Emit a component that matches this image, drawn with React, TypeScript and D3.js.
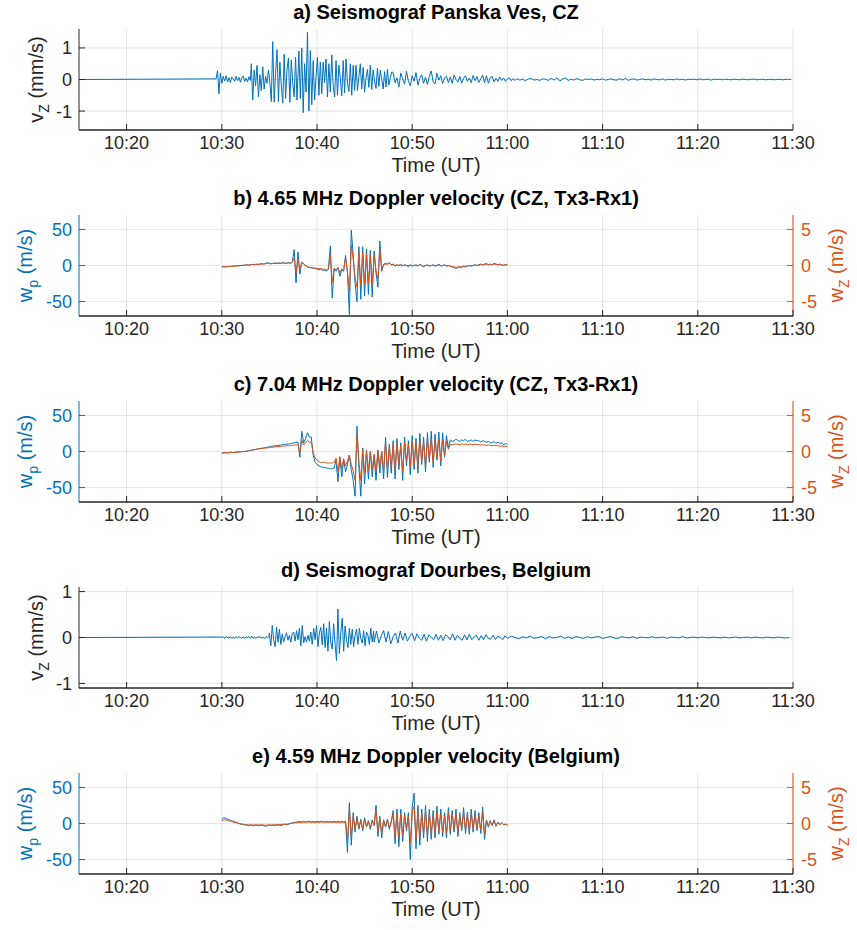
import React from "react";
import * as d3 from "d3";

// time axis in minutes after 10:00 UT
const timeStart = 15;
const timeEnd = 90;

const panelTitles = [
  "a) Seismograf Panska Ves, CZ",
  "b) 4.65 MHz Doppler velocity (CZ, Tx3-Rx1)",
  "c) 7.04 MHz Doppler velocity (CZ, Tx3-Rx1)",
  "d) Seismograf Dourbes, Belgium",
  "e) 4.59 MHz Doppler velocity (Belgium)",
];

const seisTicks = [-1, 0, 1];
const wpTicks = [-50, 0, 50];
const wzTicks = [-5, 0, 5];

// seismograms: segments of [start minute, step, ...values] in mm/s
const vzPanska = [
  [15, 14.4, 0, 0],
  [29.4, 0.15,
    0.02, 0.28, -0.45, 0.2, -0.12, 0.1, -0.05, 0.12, -0.08, 0.06,
    -0.1, 0.08, 0.02, -0.06, 0.1, -0.04, 0.07, -0.09, 0.05, 0.11,
    -0.06, 0.04, -0.08, 0.09, -0.03],
  [33.1, 0.15,
    0.5, -0.65, 0.3, -0.2, 0.45, -0.55, 0.15, -0.35, 0.4, -0.3,
    0.1, -0.12, 0.3, -0.1],
  [35.2, 0.15,
    -0.7, 1.2, -0.72, 0.2, 0.95, -0.7, 0.55, -0.2, -0.75, 0.8,
    -0.6, 0.3, 0.68, -0.72, 0.62, -0.1, -0.55, 0.7, -0.65, 0.5],
  [38.1, 0.15,
    0.9, -0.6, 1.0, -1.05, 0.5, -0.4, 1.5, -1.0, 0.92, -0.8,
    0.6, -0.65, 0.1, 0.7, -0.5, 0.55],
  [40.5, 0.15,
    -0.45, 0.55, -0.1, 0.65, -0.55, 0.5, -0.4, 0.78, -0.2, -0.55,
    0.6, -0.5, 0.45, 0.05, -0.52, 0.6, -0.42, 0.65, -0.1, -0.38,
    0.5, -0.5, 0.45, -0.35],
  [44.1, 0.15,
    0.45, -0.35, 0.1, 0.5, -0.3, 0.38, -0.4, 0.05, 0.32, -0.25,
    0.45, -0.32, 0.3, -0.05, -0.28, 0.36, -0.22, 0.3, 0.0, -0.3,
    0.25, -0.24, 0.32, -0.18, 0.05, 0.24],
  [48, 0.2,
    0.22, -0.1, 0.05, -0.24, 0.2, 0.02, -0.15, 0.26, -0.05, -0.2,
    0.12, -0.06, 0.22, -0.18, 0.04, 0.15, -0.12, 0.08, -0.16, 0.1,
    0.27, -0.08, -0.14, 0.2, -0.02, 0.12, -0.13, 0.06, 0.1, -0.1,
    0.08, -0.12, 0.14, 0.0, -0.08, 0.1, -0.12, 0.04, 0.12, -0.06,
    0.05, -0.1, 0.13, -0.04, 0.1, -0.09, 0.02, 0.14, -0.1, 0.12,
    -0.12, 0.06, 0.1, -0.08, 0.04, -0.06, 0.08, -0.03, 0.05, -0.06,
    0.02, 0.05, -0.04, 0.03, -0.03],
  [61, 0.3,
    0.03, -0.02, 0.01, -0.04, 0.02, 0.03, -0.02, 0.0, -0.03, 0.02,
    0.01, -0.03, 0.04, -0.02, 0.05, -0.05, 0.02, 0.05, -0.03, 0.01,
    -0.02, 0.03, -0.01, -0.03, 0.02, 0.0, 0.02, -0.02, 0.01, -0.01,
    0.02, -0.02, 0.0, 0.02, -0.01, -0.02, 0.03, -0.02, 0.04, -0.03,
    0.01, 0.02, -0.02, 0.0, 0.02, -0.01, 0.01, -0.02, 0.02, 0.0,
    -0.01, 0.02, -0.02, 0.01, 0.0, -0.01, 0.02, -0.01, 0.01, -0.02,
    0.01, 0.0, 0.01, -0.01, 0.02, -0.01, 0.0, 0.01, -0.02, 0.01,
    0.0, 0.01, -0.01, 0.01, 0.0, -0.01, 0.01, 0.0, -0.01, 0.01,
    0.0, -0.01, 0.01, 0.01, -0.01, 0.0, 0.01, -0.01, 0.0, 0.01,
    -0.01, 0.0, 0.01, -0.01, 0.0, 0.01, 0.0],
];

const vzDourbes = [
  [15, 15.15, 0, 0],
  [30.15, 0.15,
    0.01, -0.02, 0.02, 0.0, -0.01, 0.02, -0.02, 0.01, -0.02, 0.02,
    -0.01, 0.02, 0.0, -0.02, 0.02, -0.02, 0.01, 0.0, 0.02, -0.02,
    0.03, -0.02, 0.01, -0.02, 0.02, 0.0, 0.02, -0.02, 0.01, -0.02,
    0.02, -0.01, 0.02],
  [35, 0.15,
    0.1, -0.18, 0.26, -0.05, -0.2, 0.22, -0.1, 0.18, -0.15, 0.08,
    -0.1, 0.02, 0.1, -0.06, 0.05, -0.1, 0.08, 0.12, -0.08, 0.15,
    -0.05, 0.2, -0.18, 0.26, -0.12, 0.02, -0.1, 0.05, -0.08, 0.12,
    -0.15, 0.2, -0.05, 0.26, -0.2, 0.1, 0.22, -0.16, 0.3, -0.22,
    0.2, -0.3, 0.35, -0.1, -0.25, 0.3, -0.15, -0.5, 0.62, -0.35,
    0.1, 0.42, -0.3, 0.25, -0.05, -0.22, 0.2, -0.15, 0.18, -0.2,
    0.05, 0.18, -0.15, 0.2, -0.02, -0.12, 0.15, -0.18, 0.12, 0.05,
    -0.15, 0.2, -0.1, 0.14],
  [46, 0.25,
    -0.1, 0.14, -0.12, 0.04, 0.15, -0.1, 0.13, -0.14, 0.02, 0.1,
    -0.12, 0.14, -0.06, 0.1, -0.08, 0.03, 0.09, -0.07, 0.08, -0.02,
    -0.06, 0.07, -0.08, 0.06, 0.0, -0.05, 0.07, -0.06, 0.05, -0.07,
    0.06, 0.02, -0.05, 0.08, -0.06, 0.05, -0.02, -0.06, 0.06, -0.05,
    0.07, -0.05, 0.01, 0.05, -0.06, 0.04, -0.05, 0.06, -0.02, -0.04,
    0.05, -0.04, 0.03, 0.0, -0.05, 0.04],
  [60, 0.4,
    -0.02, 0.03, 0.0, -0.03, 0.02, -0.01, 0.03, -0.02, 0.0, 0.02,
    -0.03, 0.02, -0.01, 0.0, 0.03, -0.02, 0.01, -0.02, 0.02, 0.0,
    -0.02, 0.02, -0.01, 0.01, 0.02, -0.02, 0.0, 0.02, -0.01, -0.02,
    0.02, 0.0, -0.01, 0.02, -0.02, 0.01, 0.0, -0.01, 0.02, -0.01,
    0.0, 0.01, -0.02, 0.01, 0.0, -0.01, 0.02, -0.01, 0.0, 0.01,
    -0.01, 0.01, 0.0, -0.01, 0.01, 0.0, -0.01, 0.01, -0.01, 0.0,
    0.01, -0.01, 0.0, 0.01, -0.01, 0.01, 0.0, -0.01, 0.01, 0.0,
    -0.01, 0.01, 0.0, -0.01, 0.0],
];

// Doppler records: 10:30 - 11:00, one value every 0.2 min
const dopplerStart = 30;
const dopplerStep = 0.2;

// b) 4.65 MHz, wp in m/s (left), wz in m/s (right)
const bWp = [
  -2, -1.5, -2, -1, -1.5, -1, -0.5, -1, 0, -0.5,
  0, 0.5, 0, 1, 0.5, 1, 1.5, 1, 2, 1.5,
  2, 2.5, 2, 3, 4, 3, 2.5, 3, 3.5, 3,
  3.5, 3, 4, 3.5, 3, 4, 3, 5, 22, -24,
  19, -12, 5, 2, 0, -2, -3, -3, -4, -4,
  -5, -6, -5, -7, -6, -8, -5, 27, -45, -5,
  -8, -3, -15, -6, -8, 14, -10, -68, 49, 15,
  -25, -50, 26, -47, 26, -42, 23, -40, 21, -44,
  20, -10, -30, 34, -8, 2, 3, 2, 4, 1,
  2, -1, 1, 0, 2, -1, 1, 0, -2, 1,
  -1, 0, 1, -1, 2, 0, -2, 0, 1, -1,
  0, 1, -1, 0, 2, -1, 0, 1, -1, 0,
  -1, -2, -3, -4, -3, -2, -3, -1, -2, -1,
  0, -1, 0, 1, 0, 1, 2, 1, 2, 3,
  1, 2, 1, 3, 2, 1, 2, 1, 0, 1,
  1,
];
const bWz = [
  -0.2, -0.15, -0.2, -0.15, -0.15, -0.1, -0.1, -0.1, -0.05, -0.05,
  0, 0, 0.05, 0.1, 0.05, 0.1, 0.15, 0.1, 0.15, 0.15,
  0.2, 0.2, 0.2, 0.25, 0.3, 0.25, 0.25, 0.3, 0.3, 0.3,
  0.3, 0.3, 0.35, 0.3, 0.3, 0.35, 0.3, 0.4, 1.1, -1.0,
  0.9, -0.6, 0.4, 0.2, 0, -0.15, -0.25, -0.3, -0.35, -0.35,
  -0.4, -0.45, -0.45, -0.5, -0.5, -0.6, -0.4, 1.5, -2.3, -0.4,
  -0.6, -0.3, -1.0, -0.5, -0.6, 1.0, -0.8, -3.6, 2.8, 0.9,
  -1.6, -3.0, 1.8, -2.8, 1.8, -2.6, 1.6, -2.5, 1.5, -2.6,
  1.4, -0.7, -1.9, 2.2, -0.5, 0.1, 0.2, 0.2, 0.3, 0.1,
  0.1, 0, 0.1, 0, 0.1, 0, 0.05, 0, -0.05, 0,
  0, 0, 0.05, 0, 0.1, 0, -0.1, 0, 0.05, 0,
  0, 0.05, 0, 0, 0.1, 0, 0, 0.05, 0, 0,
  -0.1, -0.15, -0.2, -0.25, -0.2, -0.2, -0.2, -0.1, -0.1, -0.05,
  0, -0.05, 0, 0.05, 0, 0.05, 0.1, 0.1, 0.1, 0.15,
  0.1, 0.15, 0.1, 0.2, 0.15, 0.1, 0.1, 0.1, 0.05, 0.1,
  0.1,
];

// c) 7.04 MHz
const cWp = [
  -2, -2, -1.5, -2, -1.5, -1, -1.5, -1, -1, -0.5,
  -0.5, 0, 0, 0.5, 1, 1.5, 2, 2.5, 3, 3.5,
  4, 4.5, 5, 5.5, 6, 6.5, 7, 7.5, 8, 8,
  8.5, 9, 9.5, 10, 10, 10.5, 11, 11.5, 12, 12.5,
  13, -8, 28, 12, 18, 26, 20, 20, -5, -15,
  -18, -20, -21, -22, -22, -23, -23, -24, -24, -23,
  -12, -42, -8, -35, -12, -28, -18, -5, -25, -40,
  -62, 35, -20, -62, 5, -45, 2, -38, 0, -35,
  -5, -40, 2, -30, 0, -38, 20, -36, 10, -30,
  15, -38, 18, -25, 12, -40, 20, -20, 15, -32,
  22, -25, 18, -30, 25, -18, 20, -28, 26, -15,
  28, -22, 24, -12, 27, -20, 26, -8, 22, 5,
  16, 14, 15, 17, 15, 14, 16, 15, 17, 14,
  15, 16, 14, 16, 15, 15, 13, 15, 14, 13,
  14, 12, 12, 14, 11, 13, 11, 12, 9, 11,
  10,
];
const cWz = [
  -0.2, -0.2, -0.15, -0.2, -0.15, -0.1, -0.15, -0.1, -0.1, -0.05,
  -0.05, 0, 0, 0.05, 0.1, 0.15, 0.2, 0.25, 0.3, 0.35,
  0.4, 0.4, 0.45, 0.5, 0.5, 0.55, 0.6, 0.6, 0.65, 0.65,
  0.7, 0.7, 0.75, 0.75, 0.8, 0.8, 0.85, 0.85, 0.9, 0.9,
  0.95, -0.3, 1.6, 0.9, 1.2, 1.5, 1.3, 1.3, -0.2, -0.9,
  -1.2, -1.4, -1.5, -1.5, -1.5, -1.6, -1.6, -1.6, -1.6, -1.5,
  -0.9, -2.8, -0.7, -2.4, -1.0, -2.0, -1.3, -0.5, -1.8, -2.7,
  -4.0, 2.4, -1.4, -4.0, 0.3, -3.0, 0.1, -2.6, 0, -2.4,
  -0.4, -2.7, 0.1, -2.1, 0, -2.6, 1.3, -2.5, 0.6, -2.1,
  1.0, -2.6, 1.2, -1.8, 0.8, -2.7, 1.3, -1.4, 1.0, -2.2,
  1.5, -1.8, 1.2, -2.1, 1.6, -1.3, 1.3, -2.0, 1.7, -1.1,
  1.8, -1.6, 1.6, -0.9, 1.7, -1.4, 1.7, -0.6, 1.4, 0.3,
  1.0, 0.95, 1.0, 1.05, 1.0, 0.95, 1.05, 1.0, 1.0, 0.95,
  1.0, 1.0, 0.95, 1.0, 1.0, 0.95, 0.9, 0.95, 0.9, 0.85,
  0.9, 0.85, 0.8, 0.85, 0.8, 0.8, 0.75, 0.75, 0.7, 0.7,
  0.7,
];

// e) 4.59 MHz Belgium
const eWp = [
  6, 8, 7, 6, 5, 4, 3, 2, 1, 0,
  -1, -1, -2, -2, -3, -2, -3, -3, -2, -3,
  -3, -2, -3, -4, -3, -2, -3, -2, -3, -2,
  -2, -3, -2, -1, -2, -1, 0, 1, 1, 2,
  2, 3, 2, 3, 2, 3, 3, 2, 3, 2,
  3, 2, 3, 3, 2, 3, 2, 3, 2, 3,
  2, 3, 2, 3, 2, 3, -40, 29, -30, 15,
  -12, 10, -8, 6, -10, 8, -5, 4, -8, 5,
  -3, 25, -18, 10, -20, 5, -5, 6, -8, 3,
  18, -28, 20, -32, 20, -25, 15, -10, 15, -50,
  22, 42, -35, 25, -30, 20, -20, 25, -25, 20,
  -22, 18, -20, 24, -15, 20, -18, 15, -20, 22,
  -15, 18, -12, 20, -18, 15, -10, 22, -14, 16,
  -15, 20, -12, 18, -10, 15, -14, 23, -22, 5,
  -5, 4, -3, 5, -4, 2, -2, 1, -2, -1,
  -2,
];
const eWz = [
  0.4, 0.5, 0.5, 0.4, 0.35, 0.3, 0.2, 0.15, 0.1, 0,
  -0.05, -0.1, -0.15, -0.15, -0.2, -0.2, -0.2, -0.2, -0.2, -0.2,
  -0.2, -0.2, -0.2, -0.25, -0.2, -0.2, -0.2, -0.2, -0.2, -0.15,
  -0.15, -0.15, -0.1, -0.1, -0.1, -0.05, 0, 0.05, 0.1, 0.1,
  0.15, 0.15, 0.15, 0.2, 0.15, 0.2, 0.2, 0.15, 0.2, 0.15,
  0.2, 0.15, 0.2, 0.2, 0.15, 0.2, 0.15, 0.2, 0.15, 0.2,
  0.15, 0.2, 0.15, 0.2, 0.15, 0.2, -2.2, 2.0, -1.8, 1.0,
  -0.8, 0.7, -0.6, 0.4, -0.7, 0.5, -0.4, 0.3, -0.6, 0.4,
  -0.2, 1.8, -1.2, 0.7, -1.3, 0.4, -0.4, 0.5, -0.6, 0.2,
  1.3, -1.8, 1.4, -2.0, 1.4, -1.7, 1.1, -0.7, 1.0, -2.6,
  1.6, 2.4, -2.2, 1.7, -1.9, 1.4, -1.4, 1.7, -1.6, 1.4,
  -1.4, 1.2, -1.3, 1.6, -1.0, 1.4, -1.2, 1.0, -1.3, 1.5,
  -1.0, 1.2, -0.8, 1.4, -1.2, 1.0, -0.7, 1.5, -0.9, 1.1,
  -1.0, 1.4, -0.8, 1.2, -0.7, 1.0, -0.9, 1.5, -1.4, 0.4,
  -0.3, 0.3, -0.2, 0.4, -0.3, 0.15, -0.15, 0.1, -0.15, -0.1,
  -0.2,
];

type Pt = { t: number; v: number };

function fromSegments(segs: number[][]): Pt[] {
  const out: Pt[] = [];
  segs.forEach((s, k) => {
    const [t0, step, ...vals] = s;
    const next = k + 1 < segs.length ? segs[k + 1][0] : Infinity;
    vals.forEach((v, i) => {
      const t = t0 + i * step;
      if (t < next - 1e-6) out.push({ t, v });
    });
  });
  return out;
}

const dop = (vals: number[]) => fromSegments([[dopplerStart, dopplerStep, ...vals]]);

const BLUE = "#0072BD";
const ORANGE = "#D95319";
const AXIS = "#262626";
const FONT = "'Liberation Sans', Arial, Helvetica, sans-serif";

const toDate = (m: number) => new Date(Date.UTC(2021, 0, 1, 10, 0) + m * 60000);

const x0 = 79;
const x1 = 793;
const plotH = 101;
const panelTops = [29, 215, 401, 587, 773];

const xScale = d3.scaleUtc().domain([toDate(timeStart), toDate(timeEnd)]).range([x0, x1]);
const xTicks = xScale.ticks(d3.utcMinute.every(10)!);
const fmt = d3.utcFormat("%H:%M");

type PanelDef = {
  title: string;
  top: number;
  seis: boolean;
  left: [number, number];
  right?: [number, number];
  leftSeries: Pt[];
  rightSeries?: Pt[];
};

const panels: PanelDef[] = [
  { title: panelTitles[0], top: panelTops[0], seis: true, left: [-1.6, 1.6], leftSeries: fromSegments(vzPanska) },
  { title: panelTitles[1], top: panelTops[1], seis: false, left: [-70, 70], right: [-7, 7], leftSeries: dop(bWp), rightSeries: dop(bWz) },
  { title: panelTitles[2], top: panelTops[2], seis: false, left: [-70, 70], right: [-7, 7], leftSeries: dop(cWp), rightSeries: dop(cWz) },
  { title: panelTitles[3], top: panelTops[3], seis: true, left: [-1.1, 1.1], leftSeries: fromSegments(vzDourbes) },
  { title: panelTitles[4], top: panelTops[4], seis: false, left: [-70, 70], right: [-7, 7], leftSeries: dop(eWp), rightSeries: dop(eWz) },
];

const TICK_FS = 18;
const LABEL_FS = 20;
const TITLE_FS = 20;

function AxisLabel({ x, y, main, sub, rest, color }: { x: number; y: number; main: string; sub: string; rest: string; color: string }) {
  return (
    <text transform={`translate(${x},${y}) rotate(-90)`} textAnchor="middle" fontSize={LABEL_FS} fill={color}>
      <tspan>{main}</tspan>
      <tspan dy={6} fontSize={14}>{sub}</tspan>
      <tspan dy={-6}>{rest}</tspan>
    </text>
  );
}

function Panel({ p }: { p: PanelDef }) {
  const bottom = p.top + plotH;
  const yL = d3.scaleLinear().domain(p.left).range([bottom, p.top]);
  const yR = p.right ? d3.scaleLinear().domain(p.right).range([bottom, p.top]) : null;
  const lineL = d3.line<Pt>().x((d) => xScale(toDate(d.t))).y((d) => yL(d.v));
  const lineR = yR ? d3.line<Pt>().x((d) => xScale(toDate(d.t))).y((d) => yR(d.v)) : null;
  const leftTicks = p.seis ? seisTicks : wpTicks;
  const leftColor = p.seis ? AXIS : BLUE;
  const hGrid = p.seis ? "#e4e4e4" : "#dbe9f4";
  const midY = p.top + plotH / 2;

  return (
    <g>
      <text x={(x0 + x1) / 2} y={p.top - 10} textAnchor="middle" fontSize={TITLE_FS} fontWeight="bold" fill="#000">
        {p.title}
      </text>
      {/* grid */}
      {xTicks.map((t, i) => (
        <line key={"vg" + i} x1={xScale(t)} x2={xScale(t)} y1={p.top} y2={bottom} stroke="#e4e4e4" />
      ))}
      {leftTicks.map((v) => (
        <line key={"hg" + v} x1={x0} x2={x1} y1={yL(v)} y2={yL(v)} stroke={hGrid} />
      ))}
      {/* data */}
      <path d={lineL(p.leftSeries) || ""} fill="none" stroke={BLUE} strokeWidth={1} />
      {lineR && p.rightSeries && (
        <path d={lineR(p.rightSeries) || ""} fill="none" stroke={ORANGE} strokeWidth={1} />
      )}
      {/* left axis */}
      <line x1={x0} x2={x0} y1={p.top} y2={bottom} stroke={leftColor} strokeWidth={1} />
      {leftTicks.map((v) => (
        <g key={"lt" + v}>
          <line x1={x0} x2={x0 + 6} y1={yL(v)} y2={yL(v)} stroke={leftColor} />
          <text x={x0 - 7} y={yL(v)} dy="0.36em" textAnchor="end" fontSize={TICK_FS} fill={leftColor}>
            {v}
          </text>
        </g>
      ))}
      {p.seis ? (
        <AxisLabel x={43} y={midY} main="v" sub="Z" rest=" (mm/s)" color={AXIS} />
      ) : (
        <AxisLabel x={32} y={midY} main="w" sub="p" rest=" (m/s)" color={BLUE} />
      )}
      {/* right axis */}
      {yR && (
        <g>
          <line x1={x1} x2={x1} y1={p.top} y2={bottom} stroke={ORANGE} />
          {wzTicks.map((v) => (
            <g key={"rt" + v}>
              <line x1={x1 - 6} x2={x1} y1={yR(v)} y2={yR(v)} stroke={ORANGE} />
              <text x={x1 + 8} y={yR(v)} dy="0.36em" textAnchor="start" fontSize={TICK_FS} fill={ORANGE}>
                {v}
              </text>
            </g>
          ))}
          <AxisLabel x={843} y={midY} main="w" sub="Z" rest=" (m/s)" color={ORANGE} />
        </g>
      )}
      {/* bottom axis */}
      <line x1={x0} x2={x1} y1={bottom} y2={bottom} stroke={AXIS} strokeWidth={1.5} />
      {xTicks.map((t, i) => (
        <g key={"xt" + i}>
          <line x1={xScale(t)} x2={xScale(t)} y1={bottom} y2={bottom - 6} stroke={AXIS} />
          <text x={xScale(t)} y={bottom + 19} textAnchor="middle" fontSize={TICK_FS} fill={AXIS}>
            {fmt(t)}
          </text>
        </g>
      ))}
      <text x={(x0 + x1) / 2} y={bottom + 42} textAnchor="middle" fontSize={LABEL_FS} fill={AXIS}>
        Time (UT)
      </text>
    </g>
  );
}

export default function App() {
  return (
    <div style={{ position: "absolute", left: 0, top: 0 }}>
      <svg width={857} height={930} fontFamily={FONT} style={{ display: "block", background: "#fff" }}>
        {panels.map((p, i) => (
          <Panel key={i} p={p} />
        ))}
      </svg>
    </div>
  );
}
